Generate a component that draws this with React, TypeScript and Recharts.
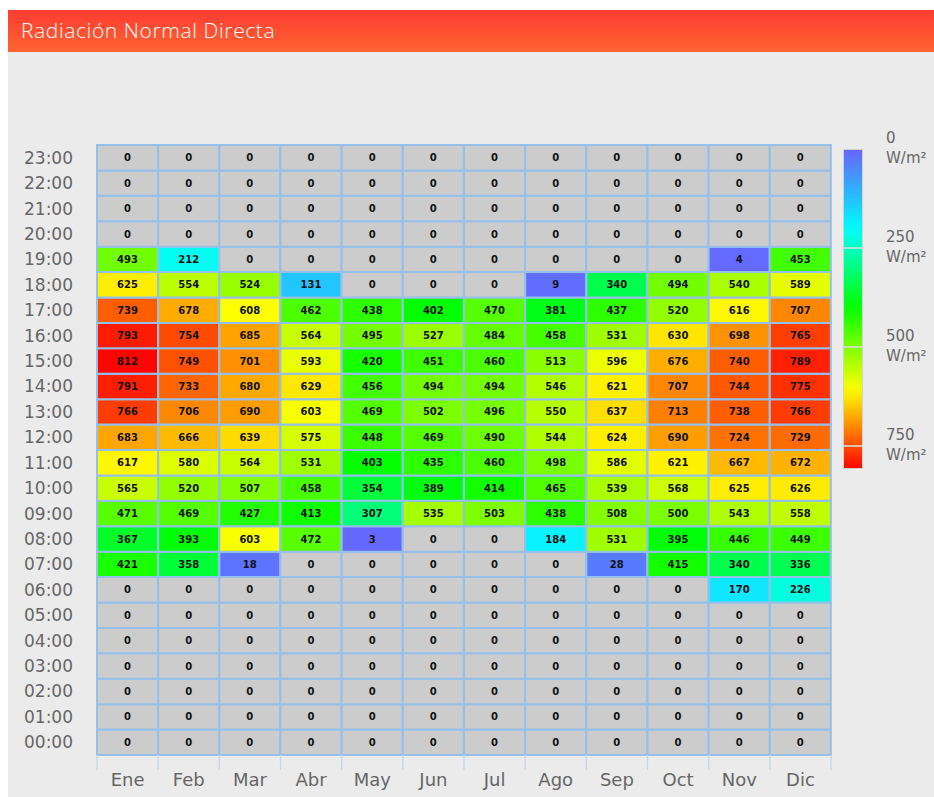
import React from 'react';
import { BarChart, Bar, XAxis, YAxis, Cell, LabelList } from 'recharts';

const months = ['Ene', 'Feb', 'Mar', 'Abr', 'May', 'Jun', 'Jul', 'Ago', 'Sep', 'Oct', 'Nov', 'Dic'];
const hourLabels = [
    '00:00', '01:00', '02:00', '03:00', '04:00', '05:00', '06:00', '07:00',
    '08:00', '09:00', '10:00', '11:00', '12:00', '13:00', '14:00', '15:00',
    '16:00', '17:00', '18:00', '19:00', '20:00', '21:00', '22:00', '23:00'
];

// W/m² per month, one array per hour
const h00 = [0, 0, 0, 0, 0, 0, 0, 0, 0, 0, 0, 0];
const h01 = [0, 0, 0, 0, 0, 0, 0, 0, 0, 0, 0, 0];
const h02 = [0, 0, 0, 0, 0, 0, 0, 0, 0, 0, 0, 0];
const h03 = [0, 0, 0, 0, 0, 0, 0, 0, 0, 0, 0, 0];
const h04 = [0, 0, 0, 0, 0, 0, 0, 0, 0, 0, 0, 0];
const h05 = [0, 0, 0, 0, 0, 0, 0, 0, 0, 0, 0, 0];
const h06 = [0, 0, 0, 0, 0, 0, 0, 0, 0, 0, 170, 226];
const h07 = [421, 358, 18, 0, 0, 0, 0, 0, 28, 415, 340, 336];
const h08 = [367, 393, 603, 472, 3, 0, 0, 184, 531, 395, 446, 449];
const h09 = [471, 469, 427, 413, 307, 535, 503, 438, 508, 500, 543, 558];
const h10 = [565, 520, 507, 458, 354, 389, 414, 465, 539, 568, 625, 626];
const h11 = [617, 580, 564, 531, 403, 435, 460, 498, 586, 621, 667, 672];
const h12 = [683, 666, 639, 575, 448, 469, 490, 544, 624, 690, 724, 729];
const h13 = [766, 706, 690, 603, 469, 502, 496, 550, 637, 713, 738, 766];
const h14 = [791, 733, 680, 629, 456, 494, 494, 546, 621, 707, 744, 775];
const h15 = [812, 749, 701, 593, 420, 451, 460, 513, 596, 676, 740, 789];
const h16 = [793, 754, 685, 564, 495, 527, 484, 458, 531, 630, 698, 765];
const h17 = [739, 678, 608, 462, 438, 402, 470, 381, 437, 520, 616, 707];
const h18 = [625, 554, 524, 131, 0, 0, 0, 9, 340, 494, 540, 589];
const h19 = [493, 212, 0, 0, 0, 0, 0, 0, 0, 0, 4, 453];
const h20 = [0, 0, 0, 0, 0, 0, 0, 0, 0, 0, 0, 0];
const h21 = [0, 0, 0, 0, 0, 0, 0, 0, 0, 0, 0, 0];
const h22 = [0, 0, 0, 0, 0, 0, 0, 0, 0, 0, 0, 0];
const h23 = [0, 0, 0, 0, 0, 0, 0, 0, 0, 0, 0, 0];

const hourRows = [h00, h01, h02, h03, h04, h05, h06, h07, h08, h09, h10, h11,
    h12, h13, h14, h15, h16, h17, h18, h19, h20, h21, h22, h23];

const legendTicks = [0, 250, 500, 750];

// colour ramp stops [value, r, g, b]
const stops: [number, number, number, number][] = [
    [0, 102, 102, 255],
    [130, 34, 196, 255],
    [200, 0, 255, 255],
    [400, 0, 255, 0],
    [500, 122, 255, 0],
    [610, 255, 255, 0],
    [700, 255, 144, 0],
    [750, 255, 80, 0],
    [815, 255, 0, 0]
];

const rampColor = (v: number) => {
    let i = 0;
    while (i < stops.length - 2 && v > stops[i + 1][0]) i++;
    const a = stops[i], b = stops[i + 1];
    const t = Math.max(0, Math.min(1, (v - a[0]) / (b[0] - a[0])));
    const c = (k: number) => Math.round(a[k] + (b[k] - a[k]) * t);
    return `rgb(${c(1)},${c(2)},${c(3)})`;
};

const cellColor = (v: number) => (v === 0 ? '#cccccc' : rampColor(v));

const data = months.map((m, mi) => {
    const row: any = { month: m };
    hourRows.forEach((r, hi) => {
        row[`h${hi}`] = 1;
        row[`v${hi}`] = r[mi];
    });
    return row;
});

const MonthTick = (props: any) => {
    const { x, y, payload, index } = props;
    const off = payload.offset || 0;
    return (
        <g>
            <line x1={x - off} x2={x - off} y1={y} y2={y + 15} stroke="#c9d8e8" strokeWidth={1.5} />
            {index === months.length - 1 && (
                <line x1={x + off} x2={x + off} y1={y} y2={y + 15} stroke="#c9d8e8" strokeWidth={1.5} />
            )}
            <text x={x} y={y + 31} textAnchor="middle" fill="#666" fontSize={18} fontFamily="DejaVu Sans">
                {payload.value}
            </text>
        </g>
    );
};

const gradientStops = () => {
    const out: string[] = [];
    for (let v = 0; v <= 810; v += 30) out.push(`${rampColor(v)} ${(v / 810) * 100}%`);
    return `linear-gradient(to bottom, ${out.join(', ')})`;
};

export default function App() {
    return (
        <div style={{ position: 'relative', width: 934, height: 797, fontFamily: 'DejaVu Sans' }}>
            <style>{'body{margin:0}'}</style>
            <div style={{
                position: 'absolute', left: 8, top: 10, width: 926, height: 42,
                background: 'linear-gradient(to bottom, #ff3c32, #ff6432)'
            }}>
                <div style={{
                    position: 'absolute', left: 13, top: 6, color: '#fff', fontSize: 21,
                    fontFamily: 'Open Sans', fontWeight: 300, letterSpacing: 0.6
                }}>
                    Radiación Normal Directa
                </div>
            </div>
            <div style={{ position: 'absolute', left: 8, top: 52, width: 926, height: 745, background: '#ebebeb' }} />
            <div style={{ position: 'absolute', left: 0, top: 0 }}>
                <BarChart width={934} height={797} data={data} barCategoryGap={0}
                    margin={{ top: 145, right: 103, bottom: 0, left: 0 }}>
                    <XAxis xAxisId="cat" dataKey="month" height={42} axisLine={false} tickLine={false}
                        tickSize={0} tickMargin={0} interval={0} tick={<MonthTick />} />
                    <YAxis yAxisId="y" type="number" domain={[0, 24]} width={97}
                        ticks={hourLabels.map((_, i) => i + 0.5)}
                        tickFormatter={(v: number) => hourLabels[Math.floor(v)]}
                        axisLine={false} tickLine={false} tickSize={0} tickMargin={24} interval={0}
                        tick={{ fill: '#666', fontSize: 17, fontFamily: 'DejaVu Sans' }} />
                    {hourRows.map((r, hi) => (
                        <Bar key={hi} dataKey={`h${hi}`} stackId="s" xAxisId="cat" yAxisId="y"
                            isAnimationActive={false} stroke="#95c0ea" strokeWidth={2}>
                            {months.map((m, mi) => (
                                <Cell key={m} fill={cellColor(r[mi])} />
                            ))}
                            <LabelList dataKey={`v${hi}`} position="center" fill="#111"
                                fontSize={10} fontWeight="bold" fontFamily="DejaVu Sans" />
                        </Bar>
                    ))}
                </BarChart>
            </div>
            <div style={{
                position: 'absolute', left: 843, top: 149, width: 20, height: 320,
                background: gradientStops(), border: '1px solid #d0d0d0', boxSizing: 'border-box'
            }} />
            {legendTicks.slice(1).map((t) => (
                <div key={`sep${t}`} style={{
                    position: 'absolute', left: 843, top: 149 + (t / 250) * 99 - 1, width: 20, height: 2,
                    background: 'rgba(220,220,220,0.8)'
                }} />
            ))}
            {legendTicks.map((t) => (
                <div key={t} style={{
                    position: 'absolute', left: 886, top: 128 + (t / 250) * 99, color: '#666',
                    fontSize: 15, lineHeight: '20px'
                }}>
                    <div>{t}</div>
                    <div>W/m²</div>
                </div>
            ))}
        </div>
    );
}
